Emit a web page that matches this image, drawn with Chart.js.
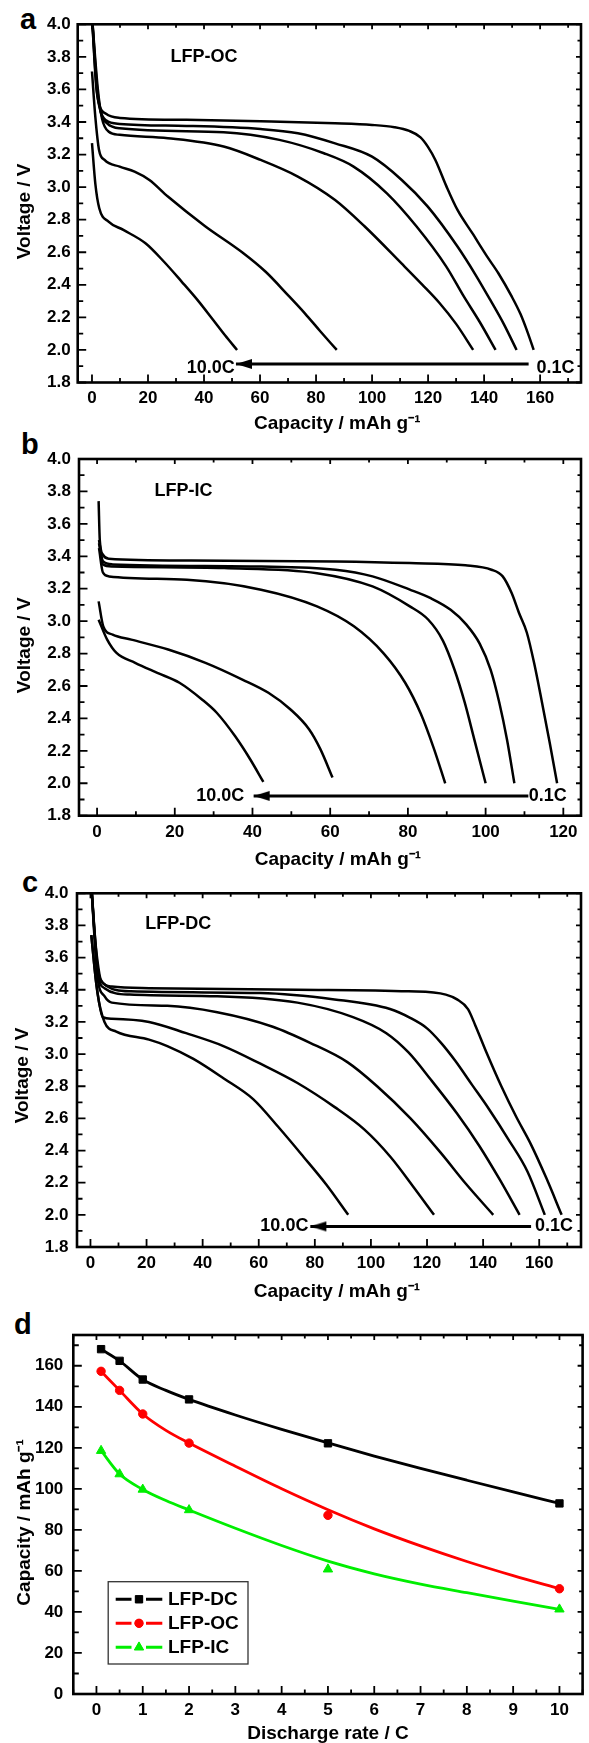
<!DOCTYPE html>
<html><head><meta charset="utf-8"><title>LFP discharge curves</title>
<script src="https://cdn.jsdelivr.net/npm/chart.js@4/dist/chart.umd.min.js"></script>
<style>
html,body{margin:0;padding:0;background:#fff;overflow:hidden;}
body{position:relative;width:589px;height:1743px;}
canvas{position:absolute;left:0;}
.pl{position:absolute;font-family:"Liberation Sans",Arial,Helvetica,sans-serif;font-weight:bold;font-size:29px;line-height:29px;color:#000;}
</style></head>
<body>
<div class="pl" style="left:20px;top:5px">a</div>
<div class="pl" style="left:21px;top:430px">b</div>
<div class="pl" style="left:22px;top:868px">c</div>
<div class="pl" style="left:14px;top:1310px">d</div>
<canvas id="cA" width="589" height="440" style="top:0px"></canvas>
<canvas id="cB" width="589" height="440" style="top:440px"></canvas>
<canvas id="cC" width="589" height="440" style="top:870px"></canvas>
<canvas id="cD" width="589" height="445" style="top:1310px"></canvas>
<script>
// ---------------- tick labels ----------------
const capTicks = [0, 20, 40, 60, 80, 100, 120, 140, 160];
const capTicksIC = [0, 20, 40, 60, 80, 100, 120];
const voltTicks = [1.8, 2.0, 2.2, 2.4, 2.6, 2.8, 3.0, 3.2, 3.4, 3.6, 3.8, 4.0];
const rateTicks = [0, 1, 2, 3, 4, 5, 6, 7, 8, 9, 10];
const capRateTicks = [0, 20, 40, 60, 80, 100, 120, 140, 160];

// ---------------- panel a : LFP-OC, [capacity, voltage] ----------------
const oc01 = [[0,4.05],[1.5,3.62],[2.7,3.50],[5,3.45],[10,3.425],[33.7,3.413],[60.2,3.404],[86.8,3.392],[100,3.382],[108,3.368],[113.3,3.345],[117.3,3.306],[119.9,3.249],[122.6,3.167],[126.6,3.003],[130.5,2.86],[135.8,2.717],[141.1,2.573],[145.1,2.471],[149.8,2.33],[153,2.22],[155.7,2.10],[157.7,2.0]];
const oc05 = [[0,4.05],[1.7,3.6],[3,3.47],[5,3.41],[9.9,3.388],[33.7,3.376],[60.2,3.357],[73.5,3.331],[86.8,3.269],[100,3.187],[110.6,3.044],[119.9,2.88],[130.5,2.635],[137,2.46],[142.1,2.31],[147,2.16],[151.6,2.0]];
const oc1 = [[0,4.05],[1.9,3.6],[3.3,3.45],[5.5,3.39],[9.9,3.361],[47,3.337],[66.9,3.29],[82.8,3.208],[93.4,3.126],[105.3,2.962],[115.9,2.758],[126.5,2.512],[132.7,2.33],[138.5,2.17],[144.1,2.0]];
const oc2 = [[0,4.05],[2.1,3.6],[3.6,3.42],[6,3.34],[9.9,3.321],[27.1,3.30],[47,3.249],[60.2,3.167],[73.5,3.065],[86.8,2.921],[97.4,2.758],[110.6,2.53],[118,2.40],[124,2.29],[130,2.16],[136.1,2.0]];
const oc5 = [[0,3.71],[1.2,3.43],[2.5,3.23],[4.5,3.167],[9.9,3.126],[15.2,3.095],[20.5,3.044],[27.1,2.942],[40.4,2.76],[53.6,2.60],[62,2.48],[69.8,2.34],[76,2.225],[81.5,2.115],[87.4,2.0]];
const oc10 = [[0,3.27],[1.2,3.02],[2.6,2.87],[5.9,2.788],[11.2,2.737],[19.1,2.655],[25.8,2.54],[32,2.42],[38,2.30],[43,2.19],[47.5,2.09],[51.8,2.0]];
const ocArrow = [[51.4,1.914],[155.9,1.914]];

// ---------------- panel b : LFP-IC ----------------
const ic01 = [[0.4,3.74],[0.7,3.5],[1.5,3.41],[3,3.385],[23,3.374],[61.4,3.368],[80.5,3.358],[94.8,3.344],[101.5,3.317],[104.4,3.276],[106.7,3.173],[108.6,3.05],[110.6,2.93],[112.5,2.74],[114.5,2.50],[116.5,2.25],[118.4,2.0]];
const ic05 = [[0.5,3.5],[1.5,3.37],[4,3.35],[42.2,3.337],[61.4,3.317],[70.9,3.276],[80.5,3.194],[86,3.14],[91,3.07],[95,2.98],[98.5,2.86],[101.3,2.70],[103.5,2.50],[105.5,2.27],[107.4,2.0]];
const ic1 = [[0.5,3.48],[1.5,3.35],[4,3.337],[32.7,3.327],[56.6,3.296],[70.9,3.214],[80.5,3.091],[85.2,3.01],[89,2.88],[92,2.70],[94.6,2.50],[97.2,2.26],[100,2.0]];
const ic2 = [[0.5,3.45],[1.5,3.30],[3.1,3.276],[23.1,3.255],[42.2,3.194],[56.6,3.091],[66.1,2.968],[73.8,2.80],[79.3,2.62],[83.3,2.43],[86.6,2.22],[89.6,2.0]];
const ic5 = [[0.4,3.122],[1.6,2.968],[4,2.917],[8.8,2.886],[18.3,2.825],[27.9,2.743],[37.4,2.64],[44.1,2.558],[49.8,2.455],[54.6,2.332],[57.5,2.209],[60.6,2.035]];
const ic10 = [[0.4,3.009],[2.6,2.886],[5,2.804],[9.8,2.743],[15.5,2.681],[21.2,2.62],[27,2.517],[30.8,2.435],[35.5,2.291],[39.4,2.148],[42.8,2.008]];
const icArrow = [[40.3,1.922],[111,1.922]];

// ---------------- panel c : LFP-DC ----------------
const dc01 = [[0.3,4.05],[1.5,3.75],[2.5,3.58],[3.7,3.462],[7.6,3.42],[20.9,3.41],[73.8,3.40],[113.4,3.39],[126.7,3.37],[130.7,3.34],[134.6,3.28],[137.3,3.175],[141.2,3.01],[146.5,2.80],[151.8,2.61],[157,2.44],[162.5,2.23],[168,2.0]];
const dc05 = [[0.3,4.05],[2.5,3.55],[4.5,3.44],[14.4,3.39],[60.6,3.38],[87,3.34],[106.8,3.28],[114,3.225],[120,3.16],[125,3.07],[130,2.96],[136,2.81],[142,2.66],[149,2.47],[155.8,2.27],[162,2.0]];
const dc1 = [[0.3,4.05],[2.5,3.52],[5,3.41],[14,3.37],[45.2,3.36],[73.8,3.32],[93.6,3.23],[105.5,3.13],[113.4,3.01],[121.4,2.84],[130.7,2.63],[138.6,2.43],[145.9,2.22],[153,2.0]];
const dc2 = [[0.3,4.05],[2.5,3.48],[5,3.36],[7.6,3.32],[27.4,3.30],[45.2,3.26],[65,3.17],[78.3,3.07],[91.6,2.95],[102.2,2.80],[114.1,2.60],[124.7,2.39],[134,2.19],[143.6,2.0]];
const dc5 = [[0.3,3.74],[2,3.45],[4.4,3.23],[7.6,3.22],[20.9,3.20],[34.1,3.13],[47.4,3.05],[60.6,2.94],[73.8,2.82],[87.1,2.67],[97.7,2.53],[107,2.36],[114.9,2.18],[122.5,2.0]];
const dc10 = [[0.3,3.74],[2.5,3.38],[5,3.20],[9.2,3.14],[20.9,3.09],[27.4,3.05],[36.7,2.97],[47.4,2.85],[58,2.72],[67.3,2.54],[76,2.36],[84,2.19],[91.9,2.0]];
const dcArrow = [[78.4,1.928],[157.1,1.928]];

// ---------------- panel d : rate capability ----------------
const rates = [0.1, 0.5, 1, 2, 5, 10];
const capDC = [168.1, 162.4, 153.3, 143.6, 122.2, 92.9];
const capOC = [157.3, 148.0, 136.5, 122.3, 87.1, 51.3];
const capIC = [118.6, 107.2, 99.7, 89.7, 60.8, 41.3];
const fitRates = [0.1, 0.5, 1, 1.5, 2, 3, 4, 5, 6, 7, 8, 9, 10];
const fitDC = [168.1, 162.4, 153.3, 148.0, 143.6, 136.0, 129.0, 122.4, 116.0, 110.0, 104.2, 98.5, 92.9];
const fitOC = [157.3, 148.0, 136.5, 128.5, 122.3, 111.0, 100.0, 89.8, 80.5, 72.2, 64.6, 57.7, 51.3];
const fitIC = [118.6, 107.2, 99.7, 94.3, 89.7, 80.8, 72.4, 64.8, 58.6, 53.6, 49.4, 45.3, 41.3];

// ---------------- rendering ----------------
const FAM = '"Liberation Sans", Arial, Helvetica, sans-serif';
Chart.defaults.font.family = FAM;
Chart.defaults.font.weight = 'bold';
Chart.defaults.color = '#000';

function makeHead(len, half) {
  const c = document.createElement('canvas');
  c.width = 2 * len + 2; c.height = 2 * half + 2;
  const g = c.getContext('2d');
  const cx = c.width / 2, cy = c.height / 2;
  g.fillStyle = '#000';
  g.beginPath(); g.moveTo(cx, cy); g.lineTo(cx + len, cy - half); g.lineTo(cx + len, cy + half); g.closePath(); g.fill();
  return c;
}
const head = makeHead(16, 5);

function framePlugin(o) {
  return {
    id: 'frame',
    afterDatasetsDraw(chart) {
      const {ctx, chartArea: ca, scales: {x, y}} = chart;
      const eps = 1e-6;
      ctx.save();
      ctx.strokeStyle = '#000';
      ctx.lineWidth = 1.8;
      ctx.beginPath();
      for (let i = Math.ceil(x.min / o.xMinor - eps); i * o.xMinor <= x.max + eps; i++) {
        const v = i * o.xMinor;
        const major = o.xTicks.some(t => Math.abs(t - v) < eps);
        const p = x.getPixelForValue(v);
        ctx.moveTo(p, ca.bottom); ctx.lineTo(p, ca.bottom - (major ? 8 : 4.5));
        ctx.moveTo(p, ca.top); ctx.lineTo(p, ca.top + (major ? 5 : 3.5));
      }
      for (let i = Math.ceil(y.min / o.yMinor - eps); i * o.yMinor <= y.max + eps; i++) {
        const v = i * o.yMinor;
        const major = o.yTicks.some(t => Math.abs(t - v) < eps);
        const p = y.getPixelForValue(v);
        ctx.moveTo(ca.left, p); ctx.lineTo(ca.left + (major ? 8.5 : 5.5), p);
        ctx.moveTo(ca.right, p); ctx.lineTo(ca.right - (major ? 5 : 3.5), p);
      }
      ctx.stroke();
      ctx.lineWidth = 2.6;
      ctx.strokeRect(ca.left, ca.top, ca.width, ca.height);
      ctx.restore();
    }
  };
}

function notesPlugin(notes) {
  return {
    id: 'notes',
    afterDatasetsDraw(chart) {
      const {ctx, scales: {x, y}} = chart;
      ctx.save();
      ctx.fillStyle = '#000';
      ctx.font = 'bold 18px ' + FAM;
      ctx.textBaseline = 'middle';
      notes.forEach(n => {
        ctx.textAlign = n.align;
        ctx.fillText(n.t, x.getPixelForValue(n.x), y.getPixelForValue(n.y));
      });
      ctx.restore();
    }
  };
}

function axis(o) {
  return {
    type: 'linear', min: o.min, max: o.max,
    afterBuildTicks: s => { s.ticks = o.ticks.map(v => ({value: v})); },
    afterFit: o.fit,
    grid: {display: false, drawTicks: false},
    border: {display: false},
    ticks: {autoSkip: false, maxRotation: 0, minRotation: 0, padding: o.pad, font: {size: 17, weight: 'bold'}, color: '#000',
      callback: o.fmt},
    title: {display: true, text: o.title, color: '#000', font: {size: 19, weight: 'bold'}, padding: o.tpad}
  };
}

function voltPanel(p) {
  const cv = document.getElementById(p.id);
  const W = cv.width, H = cv.height, A = p.area;
  const ds = p.curves.map(c => ({
    data: c.map(q => ({x: q[0], y: q[1]})), showLine: true, borderColor: '#000', borderWidth: 2.5,
    pointRadius: 0, cubicInterpolationMode: 'monotone', fill: false
  }));
  ds.push({
    data: p.arrow.map(q => ({x: q[0], y: q[1]})), showLine: true, borderColor: '#000', borderWidth: 3,
    backgroundColor: '#000', pointRadius: [5, 0], pointStyle: [head, 'circle'], tension: 0
  });
  new Chart(cv, {
    type: 'scatter',
    data: {datasets: ds},
    options: {
      responsive: false, animation: false, devicePixelRatio: 1, events: [],
      layout: {padding: {left: 0, right: W - A.right, top: A.top, bottom: 0}},
      plugins: {legend: {display: false}, tooltip: {enabled: false}},
      scales: {
        x: axis({min: p.xmin, max: p.xmax, ticks: p.xTicks, fit: s => { s.height = H - A.bottom; }, pad: 6,
          fmt: v => String(v), title: '   Capacity / mAh g\u207B\u00B9', tpad: {top: 0, bottom: p.xtpad}}),
        y: axis({min: 1.8, max: 4.0, ticks: voltTicks, fit: s => { s.width = A.left; }, pad: p.ypad,
          fmt: v => Number(v).toFixed(1), title: 'Voltage / V' + p.ysp, tpad: {top: p.ytpad, bottom: 0}})
      }
    },
    plugins: [framePlugin({xTicks: p.xTicks, xMinor: 10, yTicks: voltTicks, yMinor: 0.1}), notesPlugin(p.notes)]
  });
}

voltPanel({id: 'cA', area: {left: 77.7, right: 588, top: 24.3, bottom: 382.5}, xmin: -5.1, xmax: 174.6, xTicks: capTicks,
  curves: [oc01, oc05, oc1, oc2, oc5, oc10], arrow: ocArrow, xtpad: 4.6, ypad: 7, ytpad: 13, ysp: '\u00A0\u00A0\u00A0',
  notes: [{t: 'LFP-OC', x: 28, y: 3.80, align: 'left'}, {t: '10.0C', x: 51.0, y: 1.889, align: 'right'}, {t: '0.1C', x: 158.7, y: 1.889, align: 'left'}]});

voltPanel({id: 'cB', area: {left: 79, right: 586.7, top: 19, bottom: 375.7}, xmin: -4.65, xmax: 124.55, xTicks: capTicksIC,
  curves: [ic01, ic05, ic1, ic2, ic5, ic10], arrow: icArrow, xtpad: 8.6, ypad: 8, ytpad: 13, ysp: '\u00A0\u00A0\u00A0',
  notes: [{t: 'LFP-IC', x: 14.8, y: 3.80, align: 'left'}, {t: '10.0C', x: 37.9, y: 1.922, align: 'right'}, {t: '0.1C', x: 111.1, y: 1.922, align: 'left'}]});

voltPanel({id: 'cC', area: {left: 77, right: 587.3, top: 23.3, bottom: 377}, xmin: -4.8, xmax: 174.9, xTicks: capTicks,
  curves: [dc01, dc05, dc1, dc2, dc5, dc10], arrow: dcArrow, xtpad: 6.9, ypad: 8.6, ytpad: 11, ysp: '\u00A0\u00A0',
  notes: [{t: 'LFP-DC', x: 19.5, y: 3.81, align: 'left'}, {t: '10.0C', x: 77.7, y: 1.928, align: 'right'}, {t: '0.1C', x: 158.5, y: 1.928, align: 'left'}]});

// ---------------- panel d ----------------
(function () {
  const cv = document.getElementById('cD');
  const W = cv.width, H = cv.height, A = {left: 73.3, right: 586.5, top: 25, bottom: 384};
  const series = [
    {label: 'LFP-DC', color: '#000000', fit: fitDC, pts: capDC, style: 'rect', r: 5.2},
    {label: 'LFP-OC', color: '#ff0000', fit: fitOC, pts: capOC, style: 'circle', r: 4.2},
    {label: 'LFP-IC', color: '#00ee00', fit: fitIC, pts: capIC, style: 'triangle', r: 5.4}
  ];
  const ds = [];
  series.forEach(s => {
    ds.push({data: fitRates.map((r, i) => ({x: r, y: s.fit[i]})), showLine: true, borderColor: s.color, borderWidth: 2.8,
      pointRadius: 0, cubicInterpolationMode: 'monotone', fill: false});
  });
  series.forEach(s => {
    ds.push({data: rates.map((r, i) => ({x: r, y: s.pts[i]})), showLine: false, pointStyle: s.style, pointRadius: s.r,
      backgroundColor: s.color, borderColor: s.color, borderWidth: 1});
  });
  const legendPlugin = {
    id: 'boxLegend',
    afterDatasetsDraw(chart) {
      const ctx = chart.ctx;
      ctx.save();
      ctx.strokeStyle = '#333'; ctx.lineWidth = 1.3;
      ctx.strokeRect(108.2, 271.7, 139.8, 82.3);
      series.forEach((s, i) => {
        const yy = 289.3 + i * 24;
        ctx.strokeStyle = s.color; ctx.lineWidth = 3;
        ctx.beginPath(); ctx.moveTo(115.7, yy); ctx.lineTo(131.5, yy); ctx.moveTo(146, yy); ctx.lineTo(162.3, yy); ctx.stroke();
        ctx.fillStyle = s.color; ctx.strokeStyle = s.color; ctx.lineWidth = 1;
        Chart.helpers.drawPoint(ctx, {pointStyle: s.style, radius: s.r, rotation: 0, borderWidth: 1}, 139, yy);
        ctx.fill();
        ctx.fillStyle = '#000'; ctx.font = 'bold 19px ' + FAM; ctx.textAlign = 'left'; ctx.textBaseline = 'middle';
        ctx.fillText(s.label, 168, yy + 0.5);
      });
      ctx.restore();
    }
  };
  new Chart(cv, {
    type: 'scatter',
    data: {datasets: ds},
    options: {
      responsive: false, animation: false, devicePixelRatio: 1, events: [],
      layout: {padding: {left: 0, right: W - A.right, top: A.top, bottom: 0}},
      plugins: {legend: {display: false}, tooltip: {enabled: false}},
      scales: {
        x: axis({min: -0.5, max: 10.5, ticks: rateTicks, fit: s => { s.height = H - A.bottom; }, pad: 6,
          fmt: v => String(v), title: 'Discharge rate / C', tpad: {top: 0, bottom: 10.3}}),
        y: axis({min: 0, max: 175, ticks: capRateTicks, fit: s => { s.width = A.left; }, pad: 10,
          fmt: v => String(v), title: 'Capacity / mAh g\u207B\u00B9\u00A0\u00A0\u00A0', tpad: {top: 13, bottom: 0}})
      }
    },
    plugins: [framePlugin({xTicks: rateTicks, xMinor: 0.5, yTicks: capRateTicks, yMinor: 10}), legendPlugin]
  });
})();
</script>
</body></html>
